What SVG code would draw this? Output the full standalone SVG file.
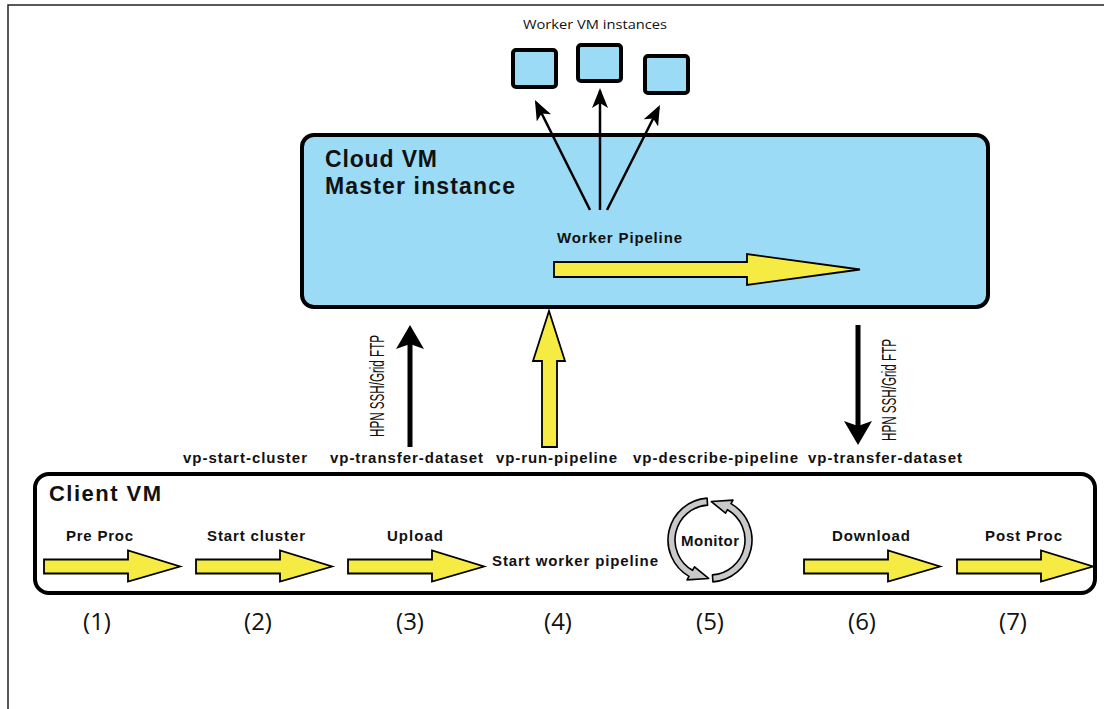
<svg xmlns="http://www.w3.org/2000/svg" width="1104" height="709" viewBox="0 0 1104 709">
<style>
.b{font-family:"Liberation Sans",Arial,sans-serif;font-weight:bold;fill:#111;}
.n{font-family:"Open Sans","Liberation Sans",sans-serif;fill:#111;}
.box{stroke:#000;stroke-width:4;}
.blue{fill:#9cdbf5;}
.ya{fill:#f5eb42;stroke:#000;stroke-width:1.8;stroke-linejoin:miter;}
.ring{fill:#c9c9c9;stroke:#000;stroke-width:1.6;stroke-linejoin:round;}
.cond{font-family:"Liberation Sans",Arial,sans-serif;fill:#111;font-size:20px;}
</style>
<defs>
<marker id="ah" viewBox="0 0 20 16" refX="17" refY="8" markerWidth="20" markerHeight="16" markerUnits="userSpaceOnUse" orient="auto">
<path d="M0,0 L20,8 L0,16 L5,8 Z" fill="#000"/>
</marker>
<path id="yarrow" d="M0,-7 H84 V-16 L136,0 L84,15 V7 H0 Z"/>
</defs>
<rect width="1104" height="709" fill="#fff"/>
<g id="frame"><path d="M8 709 V5 H1104" fill="none" stroke="#222" stroke-width="1.5"/></g>

<g id="workers">
<text class="n" x="595" y="29" font-size="13" text-anchor="middle" textLength="144" lengthAdjust="spacingAndGlyphs">Worker VM instances</text>
<rect id="worker1" class="box blue" x="513" y="50" width="43" height="37" rx="3"/>
<rect id="worker2" class="box blue" x="578" y="45" width="43" height="36" rx="3"/>
<rect id="worker3" class="box blue" x="645" y="56" width="43" height="37" rx="3"/>
</g>

<g id="cloud">
<rect class="box blue" x="302" y="135" width="686" height="172" rx="12"/>
<text class="b" x="325" y="167" font-size="23" textLength="112" lengthAdjust="spacing">Cloud VM</text>
<text class="b" x="325" y="194" font-size="23" textLength="190" lengthAdjust="spacing">Master instance</text>
<text class="b" x="557" y="243" font-size="15" textLength="125" lengthAdjust="spacing">Worker Pipeline</text>
<path class="ya" d="M554 262 H747 V254 L860 269.5 L747 285 V277 H554 Z"/>
</g>

<g id="client">
<rect class="box" fill="#fff" x="35" y="474" width="1060" height="119" rx="14"/>
<text class="b" x="49" y="501" font-size="22" textLength="112" lengthAdjust="spacing">Client VM</text>
<text class="b" x="66" y="541" font-size="15" textLength="67" lengthAdjust="spacing">Pre Proc</text>
<text class="b" x="207" y="541" font-size="15" textLength="98" lengthAdjust="spacing">Start cluster</text>
<text class="b" x="387" y="541" font-size="15" textLength="56" lengthAdjust="spacing">Upload</text>
<text class="b" x="492" y="566" font-size="15" textLength="166" lengthAdjust="spacing">Start worker pipeline</text>
<text class="b" x="832" y="541" font-size="15" textLength="78" lengthAdjust="spacing">Download</text>
<text class="b" x="985" y="541" font-size="15" textLength="77" lengthAdjust="spacing">Post Proc</text>
<use href="#yarrow" class="ya" x="44" y="566.5"/>
<use href="#yarrow" class="ya" x="196" y="566.5"/>
<use href="#yarrow" class="ya" x="348" y="566.5"/>
<use href="#yarrow" class="ya" x="804" y="566.5"/>
<use href="#yarrow" class="ya" x="957" y="566.5"/>
<g id="monitor">
<path class="ring" d="M712.93 581.90 A42 42 0 0 0 731.00 503.63 L733.00 500.16 L711.34 501.52 L725.50 513.15 L727.50 509.69 A35 35 0 0 1 712.44 574.92 Z"/>
<path class="ring" d="M707.07 498.10 A42 42 0 0 0 689.00 576.37 L687.00 579.84 L708.66 578.48 L694.50 566.85 L692.50 570.31 A35 35 0 0 1 707.56 505.08 Z"/>
<text class="b" x="710" y="546" font-size="15" text-anchor="middle" textLength="58" lengthAdjust="spacing">Monitor</text>
</g>
</g>

<g id="steps">
<text class="n" x="97" y="630" font-size="24" text-anchor="middle">(1)</text>
<text class="n" x="258" y="630" font-size="24" text-anchor="middle">(2)</text>
<text class="n" x="410" y="630" font-size="24" text-anchor="middle">(3)</text>
<text class="n" x="558" y="630" font-size="24" text-anchor="middle">(4)</text>
<text class="n" x="710" y="630" font-size="24" text-anchor="middle">(5)</text>
<text class="n" x="862" y="630" font-size="24" text-anchor="middle">(6)</text>
<text class="n" x="1013" y="630" font-size="24" text-anchor="middle">(7)</text>
</g>

<g id="commands">
<text class="b" x="183" y="463" font-size="15" textLength="124" lengthAdjust="spacing">vp-start-cluster</text>
<text class="b" x="330" y="463" font-size="15" textLength="153" lengthAdjust="spacing">vp-transfer-dataset</text>
<text class="b" x="496" y="463" font-size="15" textLength="121" lengthAdjust="spacing">vp-run-pipeline</text>
<text class="b" x="633" y="463" font-size="15" textLength="165" lengthAdjust="spacing">vp-describe-pipeline</text>
<text class="b" x="808" y="463" font-size="15" textLength="154" lengthAdjust="spacing">vp-transfer-dataset</text>
</g>

<g id="connectors">
<line x1="590" y1="210" x2="536.3" y2="102.7" stroke="#000" stroke-width="2.5" marker-end="url(#ah)"/>
<line x1="600" y1="210" x2="600" y2="91" stroke="#000" stroke-width="2.5" marker-end="url(#ah)"/>
<line x1="607" y1="210" x2="658.6" y2="107.7" stroke="#000" stroke-width="2.5" marker-end="url(#ah)"/>
<line x1="410" y1="447" x2="410" y2="344" stroke="#000" stroke-width="5"/>
<path d="M410 325 L424 349 L410 344 L396 349 Z" fill="#000"/>
<path class="ya" d="M542 447 H557 V361 H565 L549 311 L533 361 H542 Z"/>
<line x1="858" y1="325" x2="858" y2="426" stroke="#000" stroke-width="5"/>
<path d="M858 445 L872 421 L858 426 L844 421 Z" fill="#000"/>
<text class="cond" transform="translate(384,386) rotate(-90)" text-anchor="middle" textLength="102" lengthAdjust="spacingAndGlyphs">HPN SSH/Grid FTP</text>
<text class="cond" transform="translate(896,390) rotate(-90)" text-anchor="middle" textLength="102" lengthAdjust="spacingAndGlyphs">HPN SSH/Grid FTP</text>
</g>
</svg>
